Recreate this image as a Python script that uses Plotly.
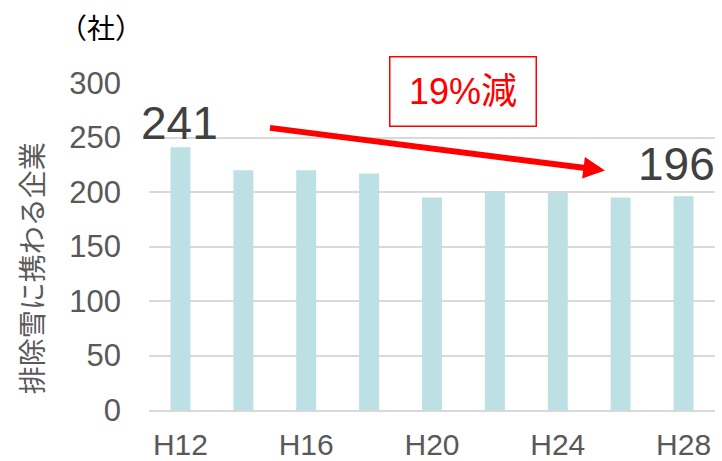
import plotly.graph_objects as go

categories = ["H12", "H14", "H16", "H18", "H20", "H22", "H24", "H26", "H28"]
companies = [241, 220, 220, 217, 195, 201, 199, 195, 196]
tick_labels = ["H12", "H16", "H20", "H24", "H28"]
y_ticks = [0, 50, 100, 150, 200, 250, 300]

FONT = "Arial, 'Liberation Sans', 'Noto Sans CJK JP', sans-serif"
CJK = "'Noto Sans CJK JP', 'Liberation Sans', sans-serif"

fig = go.Figure()
fig.add_trace(go.Bar(
    x=categories, y=companies,
    marker=dict(color="#BCE0E3", line=dict(width=0)),
    hoverinfo="x+y",
))

first, last = companies[0], companies[-1]
change = round((first - last) / first * 100)

annotations = [
    # first / last value labels
    dict(x=0, y=first, xref="x", yref="y", text=str(first), showarrow=False,
         yanchor="bottom", xshift=-1, yshift=-4,
         font=dict(family=FONT, size=46, color="#404040")),
    dict(x=len(categories) - 1, y=last, xref="x", yref="y", text=str(last), showarrow=False,
         yanchor="bottom", xshift=-7, yshift=4,
         font=dict(family=FONT, size=46, color="#404040")),
    # trend arrow
    dict(x=6.75, y=219.7, xref="x", yref="y", ax=1.4, ay=259, axref="x", ayref="y",
         text="", showarrow=True, arrowhead=2, arrowwidth=6, arrowsize=0.72,
         arrowcolor="#FF0000"),
    # reduction box
    dict(x=4.5, y=292, xref="x", yref="y", text=f"{change}%減", showarrow=False,
         width=143, height=66, borderpad=1, borderwidth=1.5, bordercolor="#FF0000",
         bgcolor="white", xanchor="center", yanchor="middle",
         font=dict(family=FONT, size=36, color="#FF0000")),
    # unit label
    dict(x=100, y=27, xref="paper", yref="paper", text="（社）", showarrow=False),
    # y-axis title
    dict(x=30, y=269, xref="paper", yref="paper", text="排除雪に携わる企業", showarrow=False,
         textangle=-90, font=dict(family=CJK, size=28, color="#595959")),
]

# convert pixel positions of the last two annotations to paper coords
W, H = 722, 461
L, R, T, B = 148.5, 6.8, 83.3, 50.5
pw, ph = W - L - R, H - T - B
for a in annotations[4:]:
    px, py = a["x"], a["y"]
    a["x"] = (px - L) / pw
    a["y"] = (H - B - py) / ph
    a["xanchor"] = "center"
    a["yanchor"] = "middle"
annotations[4]["font"] = dict(family=CJK, size=28, color="#000000")

fig.update_layout(
    width=W, height=H,
    margin=dict(l=L, r=R, t=T, b=B, pad=0, autoexpand=False),
    paper_bgcolor="white", plot_bgcolor="white",
    bargap=1 - 20 / 63,
    showlegend=False,
    font=dict(family=FONT, color="#595959"),
    annotations=annotations,
    xaxis=dict(
        type="category", automargin=False,
        tickmode="array", tickvals=tick_labels, ticktext=tick_labels,
        tickfont=dict(family=FONT, size=30, color="#595959"),
        showgrid=False, showline=True, linecolor="#D9D9D9", linewidth=2,
        ticks="", ticklabelstandoff=7,
        range=[-0.5, len(categories) - 0.5],
    ),
    yaxis=dict(
        range=[0, 300], tickmode="array", tickvals=y_ticks, automargin=False,
        tickfont=dict(family=FONT, size=31, color="#595959"),
        showgrid=True, gridcolor="#D9D9D9", gridwidth=1.5,
        zeroline=False, showline=False, ticks="",
        ticklabelstandoff=27,
    ),
)

fig.write_html("out.html")
